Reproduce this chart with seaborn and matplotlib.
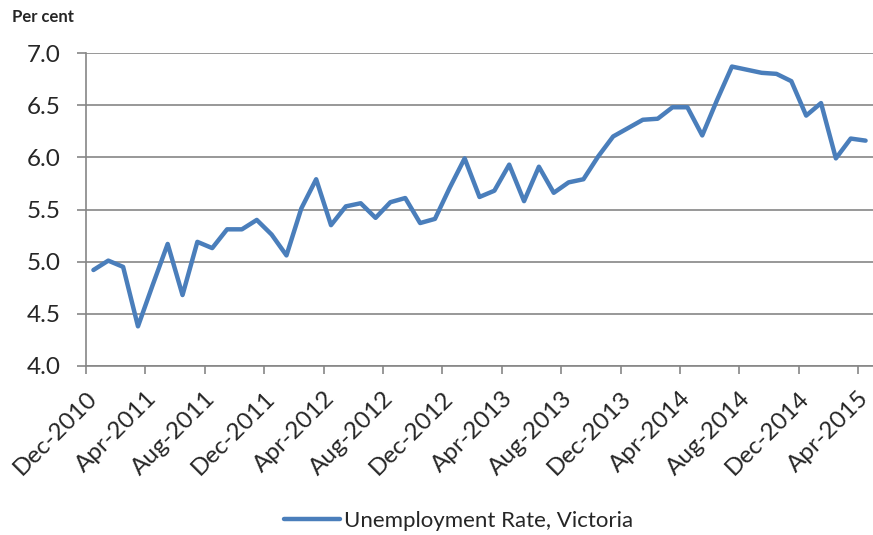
import pandas as pd
import matplotlib
matplotlib.use('Agg')
import matplotlib.pyplot as plt
import seaborn as sns

# monthly unemployment rate, Victoria, Dec-2010 .. Apr-2015
meses = pd.date_range("2010-12-01", "2015-04-01", freq="MS").strftime("%b-%Y").tolist()
tasa = [4.92, 5.01, 4.95, 4.38, 4.78, 5.17, 4.68, 5.19, 5.13, 5.31,
        5.31, 5.40, 5.26, 5.06, 5.51, 5.79, 5.35, 5.53, 5.56, 5.42,
        5.57, 5.61, 5.37, 5.41, 5.71, 5.99, 5.62, 5.68, 5.93, 5.58,
        5.91, 5.66, 5.76, 5.79, 6.01, 6.20, 6.28, 6.36, 6.37, 6.48,
        6.48, 6.21, 6.55, 6.87, 6.84, 6.81, 6.80, 6.73, 6.40, 6.52,
        5.99, 6.18, 6.16]
serie = "Unemployment Rate, Victoria"

df = pd.DataFrame({"idx": range(len(meses)), "mes": meses, "tasa": tasa})

sns.set_theme(style="white")
plt.rcParams['font.family'] = ['Lato', 'DejaVu Sans']

fig = plt.figure(figsize=(8.73, 5.35), dpi=100)
ax = fig.add_axes([86 / 873, (535 - 366) / 535, (873 - 86) / 873, (366 - 53) / 535])

sns.lineplot(data=df, x="idx", y="tasa", ax=ax, color="#4A7EBB",
             linewidth=3.2, label=serie, solid_capstyle="round", solid_joinstyle="round")

gris = "#868686"
ax.set_ylim(4.0, 7.0)
ax.set_xlim(-0.5, len(meses) - 0.5)
ax.set_yticks([4.0, 4.5, 5.0, 5.5, 6.0, 6.5, 7.0])
ax.set_yticklabels([f"{v:.1f}" for v in ax.get_yticks()], fontsize=17.5)
ax.yaxis.grid(True, color=gris, linewidth=1.2)
ax.xaxis.grid(False)

# tick marks between categories, labels on every 4th month
ax.set_xticks([i - 0.5 for i in range(0, len(meses) + 1, 4)])
ax.set_xticklabels([])
pos = list(range(0, len(meses), 4))
ax.set_xticks(pos, minor=True)
ax.set_xticklabels([meses[i] for i in pos], minor=True, rotation=45,
                   ha="right", va="center", rotation_mode="anchor", fontsize=17.5)
ax.tick_params(axis="x", which="major", length=5.8, width=1.2, color=gris, direction="out", bottom=True)
ax.tick_params(axis="x", which="minor", length=0, pad=21, bottom=True)
ax.tick_params(axis="y", length=6.5, width=1.2, color=gris, direction="out", left=True, pad=12)

for lado in ["top", "right"]:
    ax.spines[lado].set_visible(False)
for lado in ["left", "bottom"]:
    ax.spines[lado].set_color(gris)
    ax.spines[lado].set_linewidth(1.2)

ax.set_xlabel("")
ax.set_ylabel("")
fig.text(12 / 873, 1 - 17 / 535, "Per cent", fontsize=12, fontweight="bold", va="center", ha="left")

leg = ax.legend(loc="center", bbox_to_anchor=(459 / 873, 1 - 521 / 535),
                bbox_transform=fig.transFigure, frameon=False, fontsize=16,
                handlelength=2.5, handletextpad=0.2)

fig.savefig("out.png", dpi=100)
plt.close(fig)
